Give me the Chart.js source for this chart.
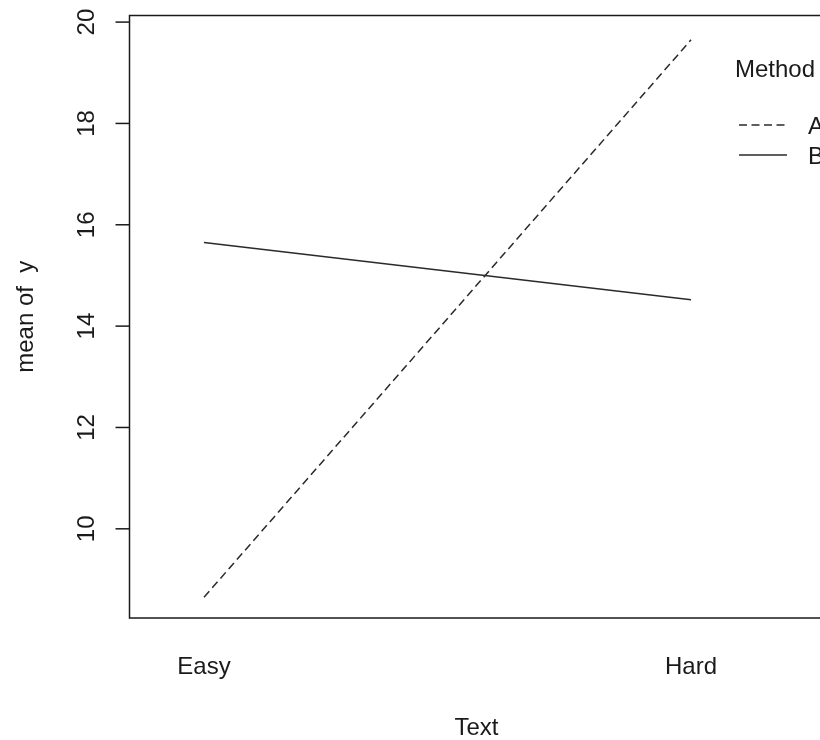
<!DOCTYPE html>
<html>
<head>
<meta charset="utf-8">
<script src="https://cdn.jsdelivr.net/npm/chart.js@4"></script>
<style>
  html, body { margin: 0; padding: 0; background: #fff; overflow: hidden; }
  #wrap { width: 820px; height: 740px; overflow: hidden; }
  canvas { display: block; }
</style>
</head>
<body>
<div id="wrap"><canvas id="c" width="840" height="740"></canvas></div>
<script>
// Factor levels on the x axis and the trace factor
const textLevels = ['Easy', 'Hard'];
const methods = ['A', 'B'];
// Cell means of y for each Method across Text levels
const meanA = [8.65, 19.65];
const meanB = [15.65, 14.52];
// Labelled y ticks
const yTicks = [10, 12, 14, 16, 18, 20];

const FONT = '"Liberation Sans", Arial, Helvetica, sans-serif';
const INK = '#1a1a1a';

const toPoints = vals => vals.map((v, i) => ({ x: i + 1, y: v }));

// Box, axis ticks, labels and legend in base-graphics style
const baseGraphics = {
  id: 'baseGraphics',
  afterDraw(chart) {
    const { ctx, chartArea: a, scales: { x, y } } = chart;
    ctx.save();
    ctx.strokeStyle = INK;
    ctx.lineWidth = 1.5;
    ctx.strokeRect(a.left, a.top, a.right - a.left, a.bottom - a.top);

    ctx.fillStyle = INK;
    ctx.font = '24px ' + FONT;

    // y ticks and rotated labels
    yTicks.forEach(t => {
      const py = y.getPixelForValue(t);
      ctx.beginPath();
      ctx.moveTo(a.left - 14, py);
      ctx.lineTo(a.left, py);
      ctx.stroke();
      ctx.save();
      ctx.translate(93.5, py);
      ctx.rotate(-Math.PI / 2);
      ctx.textAlign = 'center';
      ctx.textBaseline = 'alphabetic';
      ctx.fillText(String(t), 0, 0);
      ctx.restore();
    });

    // x category labels (no tick marks)
    ctx.textAlign = 'center';
    ctx.textBaseline = 'alphabetic';
    textLevels.forEach((lab, i) => {
      ctx.fillText(lab, x.getPixelForValue(i + 1), 674);
    });

    // axis titles
    ctx.fillText('Text', (a.left + a.right) / 2, 735);
    ctx.save();
    ctx.translate(33, (a.top + a.bottom) / 2);
    ctx.rotate(-Math.PI / 2);
    ctx.fillText('mean of  y', 0, 0);
    ctx.restore();

    // legend
    ctx.textAlign = 'left';
    ctx.fillText('Method', 735, 77);
    const legY = [125, 155];
    chart.data.datasets.forEach((ds, i) => {
      ctx.save();
      ctx.strokeStyle = ds.borderColor;
      ctx.lineWidth = ds.borderWidth;
      ctx.setLineDash(ds.borderDash || []);
      ctx.beginPath();
      ctx.moveTo(739, legY[i]);
      ctx.lineTo(787, legY[i]);
      ctx.stroke();
      ctx.restore();
      ctx.fillText(ds.label, 808, legY[i] + 8.5);
    });
    ctx.restore();
  }
};

new Chart(document.getElementById('c'), {
  type: 'line',
  data: {
    datasets: [
      {
        label: methods[0],
        data: toPoints(meanA),
        borderColor: '#2a2a2a',
        borderWidth: 1.5,
        borderDash: [8, 4.5],
        pointRadius: 0,
        tension: 0,
        fill: false
      },
      {
        label: methods[1],
        data: toPoints(meanB),
        borderColor: '#2a2a2a',
        borderWidth: 1.5,
        pointRadius: 0,
        tension: 0,
        fill: false
      }
    ]
  },
  options: {
    responsive: false,
    animation: false,
    events: [],
    layout: { padding: { left: 129.5, top: 15.5, right: 16.5, bottom: 122 } },
    plugins: { legend: { display: false }, tooltip: { enabled: false } },
    scales: {
      x: { type: 'linear', display: false, min: 0.847, max: 2.272 },
      y: { type: 'linear', display: false, min: 8.24, max: 20.13 }
    }
  },
  plugins: [baseGraphics]
});
</script>
</body>
</html>
